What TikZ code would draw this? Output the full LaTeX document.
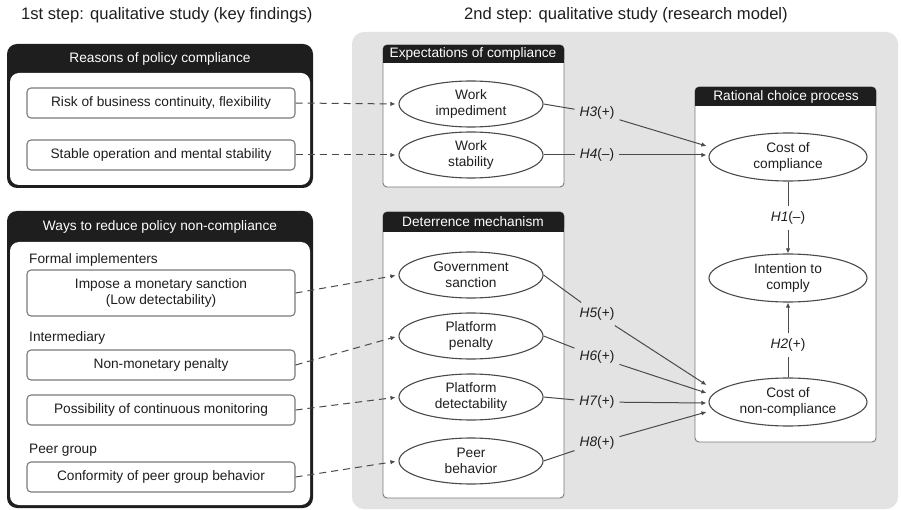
\documentclass[tikz,border=0pt]{standalone}
\usepackage{fontspec}
\setmainfont{Liberation Sans}
\usetikzlibrary{arrows.meta,calc,positioning,shapes.geometric}
\newcommand{\rmtext}{\fontsize{13.7}{16.5}\selectfont}
\newcommand{\rmtitle}{\fontsize{16.6}{20}\selectfont}
\definecolor{rmink}{HTML}{1E1E1E}
\definecolor{rmline}{HTML}{4A4A4A}
\definecolor{rmframe}{HTML}{7A7A7A}
\definecolor{rmpanel}{HTML}{E3E3E3}
\tikzset{
  findbox/.style={draw=rmframe,rounded corners=4pt,fill=white,line width=1.1pt,
    minimum width=268pt,minimum height=30pt,inner sep=0pt,align=center,
    font=\rmtext,text=rmink},
  construct/.style={draw=rmline,ellipse,fill=white,line width=1.1pt,
    minimum width=144pt,minimum height=46pt,inner sep=0pt,align=center,
    font=\rmtext,text=rmink},
  headtext/.style={text=white,inner sep=0pt,font=\rmtext},
  grouptext/.style={anchor=west,inner sep=0pt,text=rmink,font=\rmtext},
  hyptext/.style={inner sep=5pt,text=rmink,font=\rmtext},
  hypline/.style={draw=rmline,line width=1pt},
  hyparrow/.style={draw=rmline,line width=1pt,-{Latex[length=5pt,width=4.5pt]}},
  linkarrow/.style={draw=rmline,line width=1pt,dash pattern=on 7pt off 5pt,
    -{Latex[length=5pt,width=4.5pt]},shorten >=3pt},
}

\begin{document}
\begin{tikzpicture}[x=1pt,y=-1pt]
  \path[use as bounding box] (0,0) rectangle (901,510);
  % titles
  \node[anchor=west,inner sep=0pt,text=rmink,font=\rmtitle] (step1) at (21,15)
    {1st step: qualitative study (key findings)};
  \node[anchor=west,inner sep=0pt,text=rmink,font=\rmtitle] (step2) at (464,15)
    {2nd step: qualitative study (research model)};
  % grey panel of the research model
  \fill[rmpanel,rounded corners=12pt] (352,32) rectangle (898,509);
  % key finding frames
  \fill[rmink,rounded corners=10pt] (7,44) rectangle (313,188);
  \fill[white,rounded corners=9pt] (10,73) rectangle (310,185);
  \fill[rmink,rounded corners=10pt] (7,211) rectangle (313,508);
  \fill[white,rounded corners=9pt] (10,242) rectangle (310,505);
  \node[headtext] (hreason) at (160,59) {Reasons of policy compliance};
  \node[headtext] (hways) at (160,227) {Ways to reduce policy non-compliance};
  % model frames
  \foreach \x/\t/\h/\b in {383/45/63/187,383/212/232/498,695/87/106/442}
    {\draw[rmframe,fill=white,rounded corners=4pt,line width=0.9pt]
       (\x,\t) rectangle (\x+181,\b);
     \fill[rmink,rounded corners=4pt] (\x,\t) rectangle (\x+181,\h);
     \fill[rmink] (\x,\t+6) rectangle (\x+181,\h);}
  \node[headtext] (hexp) at (473,54) {Expectations of compliance};
  \node[headtext] (hdet) at (473,222) {Deterrence mechanism};
  \node[headtext] (hrat) at (786,97) {Rational choice process};
  % key findings
  \node[findbox] (fcont) at (161,103) {Risk of business continuity, flexibility};
  \node[findbox] (fstab) at (161,155) {Stable operation and mental stability};
  \node[grouptext] (gformal) at (29,260) {Formal implementers};
  \node[findbox,minimum height=46pt] (fsanc) at (161,293)
    {Impose a monetary sanction\\(Low detectability)};
  \node[grouptext] (ginter) at (29,338) {Intermediary};
  \node[findbox] (fpen) at (161,365) {Non-monetary penalty};
  \node[findbox] (fmon) at (161,410) {Possibility of continuous monitoring};
  \node[grouptext] (gpeer) at (29,450) {Peer group};
  \node[findbox] (fpeer) at (161,477) {Conformity of peer group behavior};
  % constructs
  \foreach \n/\y/\t in {wimp/104/Work\\impediment,wstab/155/Work\\stability,
      gsanc/275/Government\\sanction,ppen/336/Platform\\penalty,
      pdet/397/Platform\\detectability,peer/461/Peer\\behavior}
    {\node[construct] (\n) at (471,\y) {\t};}
  \foreach \n/\y/\t in {cc/157/Cost of\\compliance,ic/278/Intention to\\comply,
      cnc/402/Cost of\\non-compliance}
    {\node[construct,minimum width=158pt,minimum height=48pt] (\n) at (788,\y) {\t};}
  % findings feed the constructs
  \foreach \a/\b in {fcont/wimp,fstab/wstab,fsanc/gsanc,fpen/ppen,fmon/pdet,fpeer/peer}
    {\draw[linkarrow] (\a.east) -- (\b.west);}
  % hypotheses
  \node[hyptext] (h3) at (597,113) {\textit{H3}(+)};
  \node[hyptext] (h4) at (597,155) {\textit{H4}(--)};
  \node[hyptext] (h5) at (597,314) {\textit{H5}(+)};
  \node[hyptext] (h6) at (597,357) {\textit{H6}(+)};
  \node[hyptext] (h7) at (597,402) {\textit{H7}(+)};
  \node[hyptext] (h8) at (597,443) {\textit{H8}(+)};
  \node[hyptext] (h1) at (788,218) {\textit{H1}(--)};
  \node[hyptext] (h2) at (788,345) {\textit{H2}(+)};
  \coordinate (cc3) at ($(cc.west)+(-2,-11)$);
  \coordinate (cc4) at ($(cc.west)+(-2,-2)$);
  \coordinate (cnc5) at ($(cnc.west)+(-2,-17)$);
  \coordinate (cnc6) at ($(cnc.west)+(-2,-9)$);
  \coordinate (cnc7) at ($(cnc.west)+(-2,1)$);
  \coordinate (cnc8) at ($(cnc.west)+(-2,10)$);
  \foreach \s/\h/\e in {wimp/h3/cc3,wstab/h4/cc4,gsanc/h5/cnc5,ppen/h6/cnc6,
      pdet/h7/cnc7,peer/h8/cnc8}
    {\draw[hypline] (\s.east) -- (\h);
     \draw[hyparrow] (\h) -- (\e);}
  \draw[hypline] (cc) -- (h1);
  \draw[hyparrow] (h1) -- (ic);
  \draw[hypline] (cnc) -- (h2);
  \draw[hyparrow] (h2) -- (ic);
\end{tikzpicture}
\end{document}
